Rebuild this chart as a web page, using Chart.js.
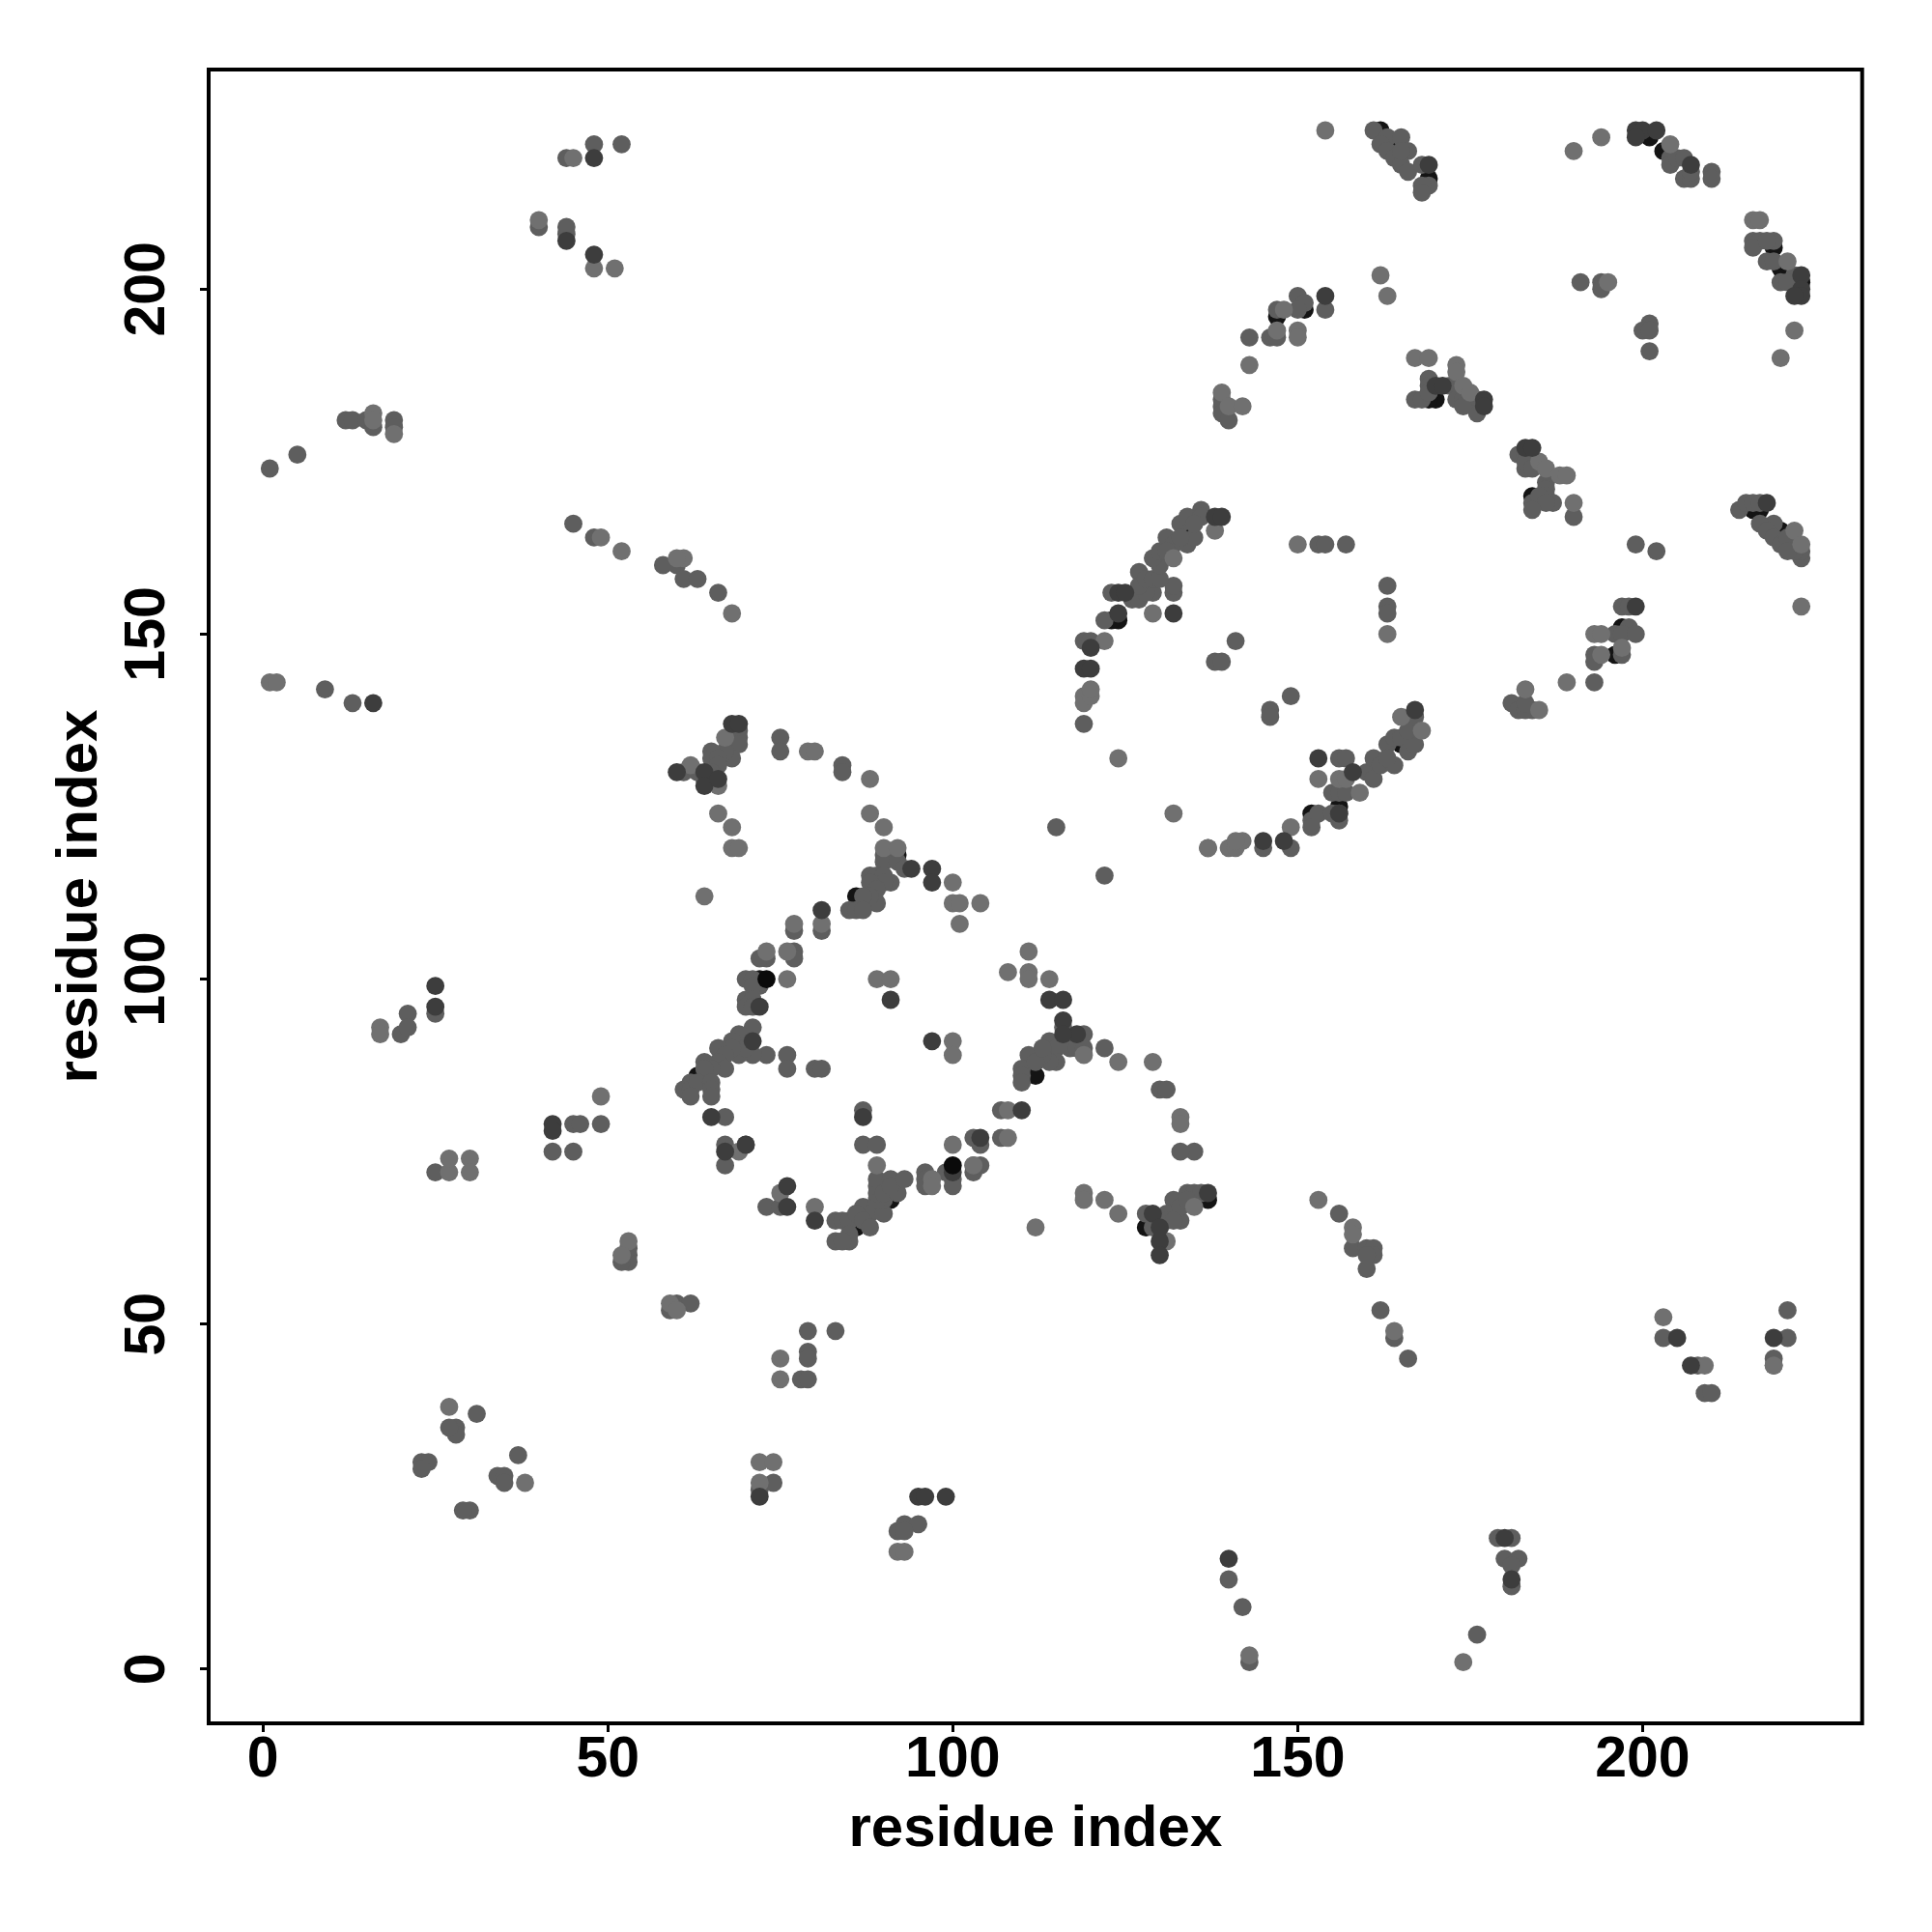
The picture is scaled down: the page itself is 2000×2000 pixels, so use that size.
<!DOCTYPE html>
<html>
<head>
<meta charset="utf-8">
<title>residue contacts</title>
<script src="https://cdn.jsdelivr.net/npm/chart.js@4/dist/chart.umd.min.js"></script>
<style>
  html, body { margin: 0; padding: 0; background: #fff; }
  #wrap { width: 2000px; height: 2000px; }
</style>
</head>
<body>
<div id="wrap"><canvas id="contactChart" width="2000" height="2000"></canvas></div>
<script>
// Contact pairs [x, y], split by how dark the dot looks
const tickValues = [0, 50, 100, 150, 200];
const axisLabel = 'residue index';

const pointsInk = [[73,100],[100,73]];

const pointsBlack = [
  [162,223],[164,220],[169,216],[203,220],[201,222],[219,206],[220,203],[223,201],[134,165],
  [170,184],[169,184],[184,170],[196,147],[197,151],[216,168],[217,168],[220,165],[222,163],
  [86,112],[72,100],[112,86],[112,88],[86,64],[91,68],[68,134],[156,125],[152,124],[147,196],
  [151,197],[165,134],[124,152],[123,152],[128,64],[63,86],[92,118],[137,68]
];

const pointsDark = [
  [25,99],[25,96],[16,140],[44,207],[48,205],[48,219],[97,116],[97,114],[94,116],[81,110],
  [91,97],[97,91],[65,80],[70,76],[76,70],[76,67],[80,65],[87,80],[67,75],[68,137],[69,137],
  [60,130],[64,130],[64,128],[66,129],[72,96],[71,91],[104,77],[110,81],[114,97],[116,97],
  [116,94],[118,92],[130,62],[130,60],[129,66],[130,64],[137,69],[132,153],[119,145],[120,145],
  [120,148],[124,153],[124,156],[125,156],[138,167],[139,167],[145,120],[148,120],[153,132],
  [156,124],[158,130],[167,139],[154,199],[169,218],[199,223],[200,223],[202,223],[199,222],
  [207,218],[223,202],[223,200],[223,199],[222,199],[170,186],[171,186],[177,184],[177,183],
  [183,177],[184,177],[199,154],[218,169],[100,72],[42,79],[42,78],[99,25],[95,25],[96,25],
  [72,25],[205,48],[207,44],[219,48],[140,16],[180,19],[181,13],[116,92]
];

const pointsMid = [
  [12,181],[13,181],[15,181],[16,180],[19,181],[19,180],[25,95],[25,72],[44,219],[44,208],
  [48,221],[52,221],[44,209],[40,209],[45,166],[48,164],[58,160],[60,160],[61,158],[63,158],
  [66,156],[9,142],[13,140],[1,174],[5,176],[21,95],[20,92],[21,93],[42,75],[45,75],[45,79],
  [46,79],[49,79],[53,60],[53,59],[52,59],[53,61],[59,52],[60,53],[62,53],[79,46],[79,45],
  [79,49],[83,49],[78,42],[79,42],[28,35],[28,34],[27,35],[23,30],[24,30],[23,29],[34,28],
  [35,28],[35,27],[37,31],[31,37],[30,23],[29,23],[72,26],[74,27],[93,21],[95,21],[92,20],
  [93,20],[140,13],[142,9],[143,1],[176,5],[181,12],[179,19],[181,19],[180,16],[182,16],[181,15],
  [156,66],[158,61],[160,61],[161,61],[161,60],[160,58],[160,60],[162,52],[164,48],[166,45],
  [203,48],[208,44],[209,40],[210,40],[221,48],[219,44],[219,45],[221,52],
  [69,136],[69,135],[69,134],[68,132],[67,133],[65,133],[65,132],[66,132],[66,131],[61,130],
  [63,130],[65,130],[64,129],[75,135],[75,133],[84,131],[84,130],[90,118],[90,117],[92,117],
  [93,116],[91,114],[88,115],[89,115],[90,115],[90,114],[88,114],[89,113],[89,111],[88,112],
  [87,112],[85,110],[86,110],[87,110],[81,107],[77,107],[73,103],[72,103],[77,104],[77,103],
  [70,100],[71,100],[72,99],[71,99],[70,97],[71,97],[70,96],[71,96],[71,93],[70,91],[69,92],
  [68,91],[73,89],[76,89],[76,87],[80,87],[81,87],[71,89],[69,89],[70,90],[68,90],[66,90],
  [67,89],[66,88],[67,87],[64,88],[65,87],[64,87],[61,84],[62,85],[62,84],[63,85],[65,85],
  [65,84],[62,83],[65,83],[67,80],[67,76],[70,76],[67,73],[73,67],[75,67],[87,81],[87,76],
  [89,76],[83,65],[84,65],[85,65],[87,67],[88,66],[86,66],[87,65],[88,64],[85,63],[83,62],
  [85,62],[84,62],[90,66],[90,68],[89,68],[89,69],[89,70],[89,71],[91,71],[90,69],[92,69],
  [91,70],[93,71],[96,72],[96,71],[96,70],[99,72],[100,71],[100,70],[103,73],[103,72],[104,73],
  [103,77],[104,76],[107,81],[111,89],[110,87],[110,86],[110,85],[113,89],[114,89],[107,77],
  [116,93],[119,92],[117,90],[118,90],[119,90],[122,90],[114,91],[115,90],[115,88],[114,88],
  [113,89],[112,88],[113,90],[130,84],[131,84],[135,75],[133,75],[122,115],[115,122],[128,66],
  [129,64],[130,64],[132,68],[132,66],[133,65],[131,66],[133,67],[134,69],[135,69],[136,69],
  [134,68],[131,65],[132,65],[119,149],[120,149],[119,137],[122,152],[132,156],[132,157],
  [123,156],[126,155],[127,155],[129,156],[128,156],[127,159],[127,157],[128,158],[129,158],
  [130,158],[130,160],[129,161],[130,162],[131,164],[132,163],[133,166],[134,167],[134,163],
  [135,164],[136,168],[136,167],[135,166],[131,162],[133,164],[163,157],[163,154],[163,153],
  [153,163],[154,163],[157,163],[141,149],[138,146],[139,146],[149,141],[146,139],[146,138],
  [137,119],[145,119],[149,119],[152,123],[152,122],[153,124],[156,123],[156,124],[155,124],
  [155,127],[156,132],[157,132],[156,127],[157,127],[160,130],[161,129],[161,132],[162,131],
  [164,131],[163,134],[164,135],[165,135],[166,133],[167,134],[166,136],[163,132],[167,138],
  [161,223],[163,222],[162,221],[163,220],[165,222],[166,220],[164,219],[165,218],[166,217],
  [168,218],[169,215],[168,215],[168,214],[165,220],[143,193],[150,199],[151,198],[150,197],
  [154,197],[147,197],[146,193],[147,193],[139,184],[139,183],[139,182],[140,181],[191,201],
  [194,201],[194,200],[201,195],[200,194],[201,194],[201,191],[204,219],[204,218],[205,219],
  [206,219],[206,216],[207,216],[207,217],[210,217],[210,216],[216,207],[217,207],[216,206],
  [219,207],[218,207],[218,204],[219,204],[220,201],[222,202],[221,201],[169,187],[172,186],
  [173,184],[174,184],[176,184],[176,182],[174,183],[167,184],[168,184],[169,186],[169,185],
  [182,176],[183,176],[183,174],[183,175],[184,174],[186,172],[186,171],[186,170],[184,169],
  [185,170],[187,169],[186,169],[184,168],[190,167],[214,168],[215,169],[216,169],[217,169],
  [219,166],[217,166],[218,165],[219,164],[220,163],[221,164],[223,161],[223,162],[222,162],
  [221,162],[197,154],[198,154],[196,150],[198,151],[197,150],[199,150],[193,147],[193,146],
  [197,147],[193,143],[181,140],[182,139],[184,139],[183,139],[183,140],[202,162],[199,163]
];

const pointsLight = [
  [16,182],[16,181],[19,179],[1,143],[2,143],[49,164],[52,162],[61,161],[60,161],[68,153],
  [40,210],[48,203],[51,203],[45,219],[17,93],[17,92],[27,72],[27,74],[30,74],[30,72],[49,83],
  [53,62],[52,60],[59,53],[60,52],[75,45],[75,42],[27,38],[38,27],[72,30],[74,30],[72,27],[92,17],
  [93,17],[143,2],[174,1],[153,68],[158,64],[158,63],[164,49],[203,51],[209,44],[219,44],
  [67,135],[62,131],[66,128],[66,124],[68,122],[68,119],[69,119],[64,112],[79,133],[80,133],
  [88,129],[88,124],[90,122],[90,119],[92,119],[100,114],[100,111],[101,111],[104,111],[101,108],
  [77,108],[81,108],[73,104],[76,104],[76,100],[89,100],[91,100],[100,91],[100,89],[69,75],
  [75,69],[80,67],[89,73],[100,76],[97,71],[97,70],[103,73],[108,81],[108,77],[112,64],
  [111,104],[108,101],[111,101],[111,100],[114,100],[119,89],[124,88],[129,88],[133,80],[133,79],
  [119,69],[119,68],[122,68],[124,66],[131,62],[135,67],[124,132],[132,124],[119,141],[119,140],
  [120,141],[120,142],[122,149],[129,153],[132,161],[138,165],[150,163],[163,150],[140,119],
  [137,119],[141,119],[142,120],[141,120],[149,122],[153,129],[156,129],[159,127],[165,138],
  [168,136],[157,129],[154,223],[162,202],[163,199],[148,197],[147,194],[150,194],[150,193],
  [143,189],[139,185],[140,183],[142,183],[190,220],[194,222],[204,221],[195,201],[222,194],
  [220,190],[167,190],[169,190],[173,189],[173,188],[174,186],[175,185],[185,175],[186,174],
  [188,173],[189,173],[190,169],[223,154],[222,165],[223,163],[193,150],[194,150],[194,147],
  [197,148],[189,143],[183,142],[185,139],[216,210],[217,210],[221,204]
];

function makeDataset(points, colour) {
    return {
        data: points.map(p => ({ x: p[0], y: p[1] })),
        backgroundColor: colour,
        borderWidth: 0,
        pointRadius: 9.4,
        pointHoverRadius: 9.4
    };
}

function axisOptions(isX) {
    return {
        type: 'linear',
        min: -7.86,
        max: 231.82,
        afterBuildTicks: scale => {
            scale.ticks = tickValues.map(v => ({ value: v }));
        },
        afterFit: scale => {
            if (isX) scale.height = 216; else scale.width = 216;
        },
        grid: {
            drawOnChartArea: false,
            drawTicks: true,
            tickLength: 9,
            tickWidth: 3,
            tickColor: '#000'
        },
        border: { display: false },
        ticks: {
            color: '#000',
            padding: isX ? -6 : 4,
            crossAlign: isX ? 'near' : 'center',
            maxRotation: isX ? 0 : 90,
            minRotation: isX ? 0 : 90,
            font: { family: 'Liberation Sans', weight: 'bold', size: 59 }
        },
        title: {
            display: true,
            text: axisLabel,
            color: '#000',
            padding: isX ? { top: 0, bottom: 70 } : { top: 47, bottom: 0 },
            font: { family: 'Liberation Sans', weight: 'bold', size: 60 }
        }
    };
}

// box round the plotting area, R style
const frame = {
    id: 'frame',
    afterDraw(chart) {
        const a = chart.chartArea, c = chart.ctx;
        c.save();
        c.strokeStyle = '#000';
        c.lineWidth = 4;
        c.strokeRect(a.left, a.top, a.right - a.left, a.bottom - a.top);
        c.restore();
    }
};

function initializeContactChart() {
    const ctx = document.getElementById('contactChart').getContext('2d');
    new Chart(ctx, {
        type: 'scatter',
        data: {
            datasets: [
                makeDataset(pointsInk, '#0a0a0a'),
                makeDataset(pointsDark, '#3d3d3d'),
                makeDataset(pointsLight, '#707070'),
                makeDataset(pointsMid, '#5e5e5e'),
                makeDataset(pointsBlack, '#141414')
            ]
        },
        options: {
            responsive: false,
            animation: false,
            layout: { padding: { top: 72, right: 72.3, left: 0, bottom: 0 } },
            plugins: { legend: { display: false }, tooltip: { enabled: false } },
            scales: { x: axisOptions(true), y: axisOptions(false) }
        },
        plugins: [frame]
    });
}

document.addEventListener('DOMContentLoaded', initializeContactChart);
</script>
</body>
</html>
